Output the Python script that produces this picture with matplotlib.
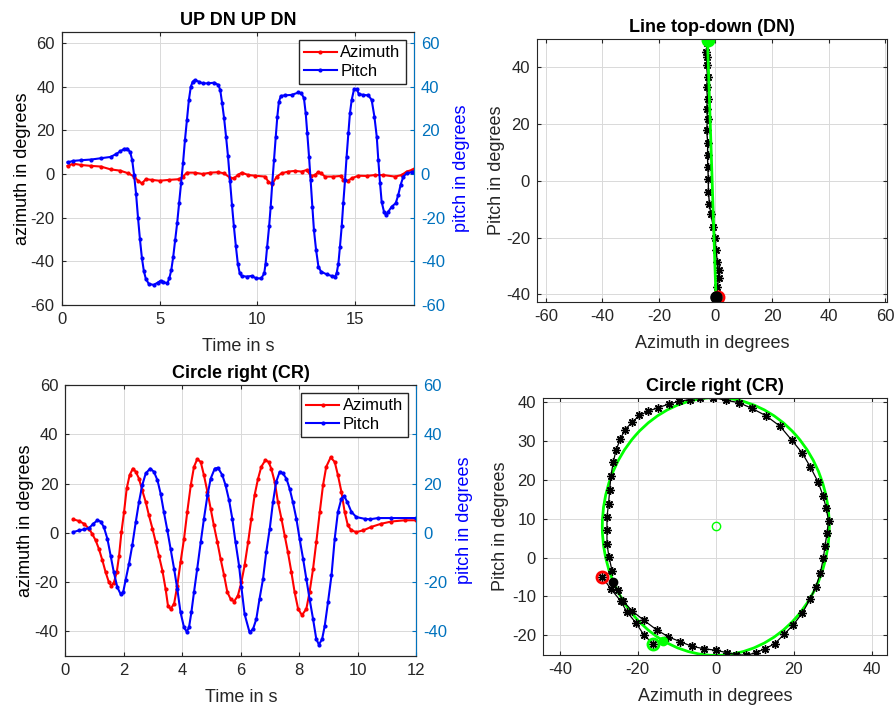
import matplotlib.pyplot as plt
from matplotlib.patches import Ellipse

plt.rcParams['font.family'] = ['Liberation Sans', 'DejaVu Sans']
plt.rcParams['axes.unicode_minus'] = False  # MATLAB usa o hífen simples

# cores no estilo do MATLAB
axis_col = '#262626'
right_col = '#0072BD'
grid_col = '#d9d9d9'
lime = '#00ff00'

# ---- UP DN UP DN (tempo) ----
updn_t_az = [0.3, 0.6, 1.0, 1.5, 2.0, 2.5, 3.0, 3.4, 3.7, 3.9, 4.1, 4.3, 4.6, 5.0,
             5.5, 6.0, 6.2, 6.4, 6.8, 7.2, 7.6, 8.0, 8.3, 8.6, 8.8, 9.0, 9.2, 9.54,
             9.88, 10.39, 10.56, 10.76, 10.99, 11.24, 11.58, 11.92, 12.26, 12.52,
             12.74, 12.94, 13.1, 13.25, 13.46, 13.88, 14.27, 14.39, 14.61, 14.82,
             15.16, 15.59, 16.01, 16.44, 17.03, 17.37, 17.63, 17.88, 18.0]
updn_az = [3.7, 4.7, 4.1, 3.7, 3.4, 2.1, 1.5, 0.3, -1.2, -3.1, -4.3, -2.4, -2.7, -3.1,
           -2.7, -2.4, -1.2, 0.6, 0.6, 0.0, 0.6, 0.8, 0.3, -1.7, -2.0, -0.5, 0.6, -0.5,
           -0.8, -1.2, -3.5, -4.6, -1.2, 0.3, 1.1, 1.4, 1.1, 1.8,
           -0.9, -0.5, 0.8, 0.3, -1.2, -1.2, -0.9, -2.7, -3.2, -2.0,
           -0.8, -0.9, -0.5, -0.5, -1.2, -0.5, 1.1, 1.8, 2.1]

updn_t_pitch = [0.3, 0.6, 1.0, 1.5, 2.0, 2.5, 2.8, 3.0, 3.2, 3.35, 3.5, 3.6, 3.7, 3.8,
                3.9, 4.0, 4.1, 4.2, 4.3, 4.45, 4.7, 4.9, 5.05, 5.2, 5.4, 5.5, 5.6, 5.7,
                5.8, 5.9, 6.0, 6.1, 6.2, 6.3, 6.4, 6.5, 6.6, 6.7, 6.8, 7.0, 7.2, 7.5,
                7.8, 8.0, 8.1, 8.2, 8.3, 8.4, 8.5, 8.6, 8.7, 8.8, 8.9, 9.0, 9.1, 9.2,
                9.45, 9.7, 9.95, 10.2, 10.35, 10.42, 10.5, 10.6, 10.68, 10.76, 10.85,
                10.94, 11.02, 11.1, 11.2, 11.4, 11.75, 12.1, 12.25, 12.38, 12.47, 12.55,
                12.64, 12.72, 12.81, 12.89, 13.0, 13.12, 13.25, 13.55, 13.8, 13.97,
                14.05, 14.14, 14.22, 14.31, 14.39, 14.48, 14.56, 14.65, 14.73, 14.82,
                14.94, 15.07, 15.19, 15.4, 15.67, 15.84, 15.98, 16.1, 16.18, 16.27,
                16.35, 16.47, 16.57, 16.69, 16.86, 17.07, 17.2, 17.32, 17.46, 17.63,
                17.88, 18.0]
updn_pitch = [5.3, 6.0, 6.3, 6.6, 7.2, 7.8, 9.2, 10.4, 11.5, 11.6, 10.0, 6.5, -0.5, -9,
              -20, -30, -38.5, -44.5, -48, -50.3, -50.8, -49.8, -48.9, -49.6, -50, -47.8, -44, -37.9,
              -30.2, -22.6, -13.4, -4.3, 4.9, 15.6, 24.7, 33.9, 40, 42.3, 43, 42.3, 41.5, 41.5,
              41.8, 40.8, 38.5, 32.4, 25.5, 17, 8, -3, -14, -24, -33, -41, -45.5, -46.7,
              -47, -46.7, -47.8, -47.8, -45.5, -41, -33.3, -24, -15, -4.3, 6.4,
              17.1, 26.3, 33.1, 35.7, 36, 36.2, 37.3, 36.9, 34.7, 27.8, 18.6,
              7.9, -2.7, -15, -25.6, -34.8, -42.4, -44.7, -46, -46.7, -47,
              -45.5, -41, -33.3, -24, -13.4, -2.7, 7.9, 18.6, 27.8, 33.9,
              38.8, 38.8, 36.6, 36.2, 36, 33.9, 26.3, 17.1, 6.4, -4.3,
              -12.7, -17.3, -18.8, -17.3, -15, -13.4, -9.6, -5, -1.2, 0.3,
              0.8, 1.0]

# ---- Circle right (tempo) ----
cr_t_az = [0.27, 0.47, 0.64, 0.81, 0.92, 1.04, 1.15, 1.27, 1.38, 1.49, 1.57, 1.66, 1.76,
           1.84, 1.92, 2.01, 2.1, 2.2, 2.31, 2.41, 2.52, 2.63, 2.75, 2.86, 2.98, 3.09,
           3.2, 3.32, 3.43, 3.51, 3.6, 3.72, 3.83, 3.94, 4.06, 4.17, 4.29, 4.4, 4.51,
           4.63, 4.74, 4.86, 4.97, 5.08, 5.2, 5.31, 5.43, 5.54, 5.65, 5.77, 5.9, 6.02,
           6.13, 6.25, 6.36, 6.47, 6.59, 6.7, 6.84, 6.95, 7.04, 7.16, 7.27, 7.39, 7.5,
           7.61, 7.73, 7.84, 7.96, 8.09, 8.24, 8.35, 8.47, 8.58, 8.7, 8.81, 8.92, 9.07,
           9.21, 9.32, 9.44, 9.55, 9.66, 9.78, 9.95, 10.18, 10.46, 10.8, 11.15, 11.6, 12.0]
cr_az = [5.5, 4.8, 3.7, 1.7, -0.4, -3.1, -6.5, -11.2, -16, -20, -21.4, -20.3, -16,
         -9.2, 0.3, 8.5, 18, 23.4, 26.1, 24.8, 22, 17.3, 12.5, 7.1, 1.7, -3.7,
         -9.2, -15.3, -22.8, -29.5, -30.9, -28.8, -21.4, -11.9, -2.4, 8.5, 19.3, 26.8, 29.9,
         28.8, 23.4, 16.6, 9.8, 3.0, -3.8, -10.6, -17.3, -24.1, -26.8, -27.9, -25.5, -20,
         -13.2, -3.8, 5.7, 15.2, 22, 26.8, 29.5, 28.8, 26.1, 20.7, 12.5, 5.7, -1.1,
         -7.8, -16, -24.1, -30.9, -33.4, -30.9, -24.1, -14.6, -3.8, 8.5, 19.3, 26.8, 30.6,
         28.8, 23.4, 16.6, 8.5, 3.0, 1.0, 0.3, 1.0, 2.4, 3.7, 4.6, 5.1, 5.1]

cr_t_pitch = [0.27, 0.47, 0.64, 0.81, 0.96, 1.1, 1.21, 1.32, 1.44, 1.55, 1.66, 1.78, 1.89,
              1.98, 2.06, 2.18, 2.29, 2.41, 2.52, 2.63, 2.75, 2.9, 3.03, 3.15, 3.26, 3.37,
              3.49, 3.6, 3.72, 3.83, 3.94, 4.06, 4.15, 4.23, 4.31, 4.4, 4.51, 4.63, 4.74,
              4.86, 4.97, 5.11, 5.22, 5.37, 5.48, 5.6, 5.71, 5.82, 5.94, 6.02, 6.13, 6.3,
              6.42, 6.53, 6.64, 6.76, 6.87, 6.99, 7.1, 7.21, 7.33, 7.44, 7.56, 7.67, 7.78,
              7.9, 8.01, 8.13, 8.24, 8.35, 8.47, 8.58, 8.67, 8.78, 8.87, 8.98, 9.1, 9.21,
              9.32, 9.44, 9.53, 9.64, 9.78, 9.95, 10.23, 10.41, 10.69, 11.15, 12.0]
cr_pitch = [0.3, 1.0, 1.4, 1.9, 3.7, 5.1, 4.6, 2.3, -2.4, -9.2, -16, -22.1, -24.8,
            -24.1, -19.3, -12.5, -5.1, 4.4, 12.5, 19.3, 24.1, 26.1, 24.8, 21.4, 15.9, 8.5,
            1.0, -6.5, -14.6, -22.8, -32.3, -38.4, -40.1, -38.4, -32.3, -24.1, -14.6, -3.8, 5.7,
            15.2, 22, 26.1, 26.4, 23.4, 19.3, 13.2, 5.7, -3.8, -13.3, -22, -33, -40.4,
            -39, -35, -26.8, -18.7, -7.8, 1.7, 12.5, 20.7, 24.8, 24.1, 22, 17.9, 12.5,
            5.7, -2.4, -10.6, -18.7, -26.8, -35, -43.1, -45.4, -43.1, -37.7, -28.2, -17.3, -2.4,
            8.5, 13.9, 15, 12.5, 8.5, 6.4, 5.7, 5.5, 6.0, 6.0, 6.0]

# ---- Line top-down (DN): azimute x pitch ----
dn_path_az = [-2.9, -3.3, -3.1, -3.1, -2.8, -3.1, -2.8, -3.1, -2.8, -3.1, -2.7, -2.8, -2.7,
              -2.5, -2.5, -2.1, -1.7, -0.7, -0.1, 0.2, 0.7, 1.1, 1.1, 0.7, 0.2, 0.2]
dn_path_pitch = [48.5, 45.5, 43.7, 40.8, 36.7, 33.1, 29.0, 25.5, 21.9, 17.9, 13.2, 9.0, 4.9,
                 0.8, -3.9, -8.0, -11.5, -16.2, -20.3, -24.4, -28.6, -31.5, -34.4, -37.4, -40.3, -41.8]
dn_fit_az = [-2.8, 0.2]
dn_fit_pitch = [49.5, -41.0]
dn_red_az, dn_red_pitch = 1.0, -41.1
dn_blk_az, dn_blk_pitch = 0.1, -40.9

# ---- Circle right (CR): azimute x pitch ----
cr_path_az = [-26.3, -25.2, -23.8, -21.4, -18.4, -15.2, -12.2, -9.1, -6.0, -3.0, 0.1, 2.8,
              5.3, 7.8, 10.3, 12.6, 15.1, 17.5, 19.8, 22.2, 24.1, 25.6, 26.8, 27.6, 28.0,
              28.5, 28.9, 28.3, 27.5, 26.2, 24.2, 22.1, 19.5, 16.5, 12.9, 9.3, 5.9, 2.6,
              -0.6, -4.0, -6.7, -9.5, -12.1, -14.8, -17.3, -19.6, -21.5, -23.3, -24.5, -25.6,
              -26.3, -26.9, -27.2, -27.5, -27.9, -27.9, -27.9, -27.4, -26.6, -29.1, -26.8,
              -24.4, -22.8, -20.5, -18.4, -16.0]
cr_path_pitch = [-6.3, -8.4, -11.2, -13.8, -16.2, -18.6, -20.4, -21.7, -22.9, -23.5, -23.9, -24.5,
                 -25.0, -25.2, -24.5, -23.5, -22.2, -19.8, -17.4, -14.3, -10.8, -7.7, -4.0, 0.0, 3.0,
                 6.2, 9.5, 12.7, 15.9, 19.5, 23.4, 27.0, 30.2, 33.8, 36.5, 38.4, 39.9, 40.5,
                 41.2, 41.2, 40.7, 40.2, 39.5, 38.6, 37.7, 36.6, 34.8, 32.9, 30.5, 27.6,
                 24.5, 21.0, 17.4, 13.9, 10.4, 7.0, 3.5, 0.2, -3.4, -5.1, -8.2,
                 -11.2, -14.0, -16.8, -20.0, -22.3]
cr_fit_center = (0.0, 8.0)
cr_fit_w, cr_fit_h = 58.2, 66.4
cr_fit_start = (-13.5, -21.5)

TICK_FS = 12
LABEL_FS = 13
TITLE_FS = 13


def style_axes(ax, right=False):
    ax.tick_params(direction='in', length=3, labelsize=TICK_FS, colors=axis_col,
                   top=True, right=not right, pad=5)
    for s in ax.spines.values():
        s.set_color(axis_col)
        s.set_linewidth(0.8)
    ax.grid(True, color=grid_col, lw=0.7)
    ax.set_axisbelow(True)


def time_panel(rect, title, t_az, az, t_pitch, pitch, ylim, yticks):
    ax = fig.add_axes(rect)
    style_axes(ax, right=True)
    ax.tick_params(right=False)
    ax2 = ax.twinx()
    l1, = ax.plot(t_az, az, '.-', color='red', lw=1.5, ms=4)
    l2, = ax2.plot(t_pitch, pitch, '.-', color='blue', lw=1.5, ms=4)
    ax.set_ylim(ylim)
    ax2.set_ylim(ylim)
    ax.set_yticks(yticks)
    ax2.set_yticks(yticks)
    ax2.tick_params(direction='in', length=3, labelsize=TICK_FS, colors=right_col, pad=5)
    for k, s in ax2.spines.items():
        s.set_color(right_col if k == 'right' else axis_col)
        s.set_linewidth(0.8)
    ax.set_title(title, fontsize=TITLE_FS, fontweight='bold', pad=5)
    ax.set_xlabel('Time in s', fontsize=LABEL_FS, color=axis_col, labelpad=8)
    ax.set_ylabel('azimuth in degrees', fontsize=LABEL_FS, color='black', labelpad=0)
    ax2.set_ylabel('pitch in degrees', fontsize=LABEL_FS, color='blue', labelpad=6)
    ax2.legend([l1, l2], ['Azimuth', 'Pitch'], loc='upper right', fontsize=12,
               fancybox=False, edgecolor=axis_col, framealpha=1, handlelength=2.0,
               borderaxespad=0.5, borderpad=0.3, labelspacing=0.2, handletextpad=0.2)
    return ax


fig = plt.figure(figsize=(8.94, 7.08), dpi=100)

# superior esquerdo
ax = time_panel([0.069, 0.5692, 0.394, 0.3856], 'UP DN UP DN',
                updn_t_az, updn_az, updn_t_pitch, updn_pitch, (-60, 65), range(-60, 61, 20))
ax.set_xlim(0, 18)
ax.set_xticks([0, 5, 10, 15])

# inferior esquerdo
ax = time_panel([0.073, 0.0734, 0.3927, 0.3828], 'Circle right (CR)',
                cr_t_az, cr_az, cr_t_pitch, cr_pitch, (-50, 60), range(-40, 61, 20))
ax.set_xlim(0, 12)
ax.set_xticks(range(0, 13, 2))

star = (8, 2, 0)

# superior direito
ax = fig.add_axes([0.6007, 0.5734, 0.3915, 0.3715])
style_axes(ax)
ax.plot(dn_path_az, dn_path_pitch, '-', color='black', lw=1, marker=star, ms=6, mew=1)
ax.plot(dn_fit_az, dn_fit_pitch, '-', color=lime, lw=2)
ax.plot(dn_fit_az[0], dn_fit_pitch[0], 'o', color=lime, ms=9)
ax.plot(dn_red_az, dn_red_pitch, 'o', mfc='none', mec='red', mew=2, ms=8)
ax.plot(dn_blk_az, dn_blk_pitch, 'o', color='black', ms=8)
ax.set_xlim(-63.1, 60.7)
ax.set_ylim(-42.7, 50)
ax.set_xticks(range(-60, 61, 20))
ax.set_yticks(range(-40, 41, 20))
ax.set_title('Line top-down (DN)', fontsize=TITLE_FS, fontweight='bold', pad=5)
ax.set_xlabel('Azimuth in degrees', fontsize=LABEL_FS, color=axis_col, labelpad=8)
ax.set_ylabel('Pitch in degrees', fontsize=LABEL_FS, color=axis_col, labelpad=1)

# inferior direito
ax = fig.add_axes([0.6074, 0.0749, 0.3848, 0.363])
style_axes(ax)
ax.add_patch(Ellipse(cr_fit_center, cr_fit_w, cr_fit_h, fill=False, ec=lime, lw=2))
ax.plot(cr_path_az, cr_path_pitch, '-', color='black', lw=0.9, marker=star, ms=6, mew=1)
ax.plot(cr_fit_center[0], cr_fit_center[1], 'o', mfc='none', mec=lime, ms=6, mew=1)
ax.plot(cr_fit_start[0], cr_fit_start[1], 'o', color=lime, ms=6)
ax.plot(cr_path_az[-1], cr_path_pitch[-1], 'o', mfc='none', mec=lime, mew=2, ms=8)
ax.plot(cr_path_az[59], cr_path_pitch[59], 'o', mfc='none', mec='red', mew=2, ms=8)
ax.plot(cr_path_az[0], cr_path_pitch[0], 'o', color='black', ms=6)
ax.set_xlim(-44.3, 43.9)
ax.set_ylim(-25.1, 41.1)
ax.set_xticks(range(-40, 41, 20))
ax.set_yticks(range(-20, 41, 10))
ax.set_title('Circle right (CR)', fontsize=TITLE_FS, fontweight='bold', pad=5)
ax.set_xlabel('Azimuth in degrees', fontsize=LABEL_FS, color=axis_col, labelpad=8)
ax.set_ylabel('Pitch in degrees', fontsize=LABEL_FS, color=axis_col, labelpad=2)

fig.savefig('out.png', dpi=100)
